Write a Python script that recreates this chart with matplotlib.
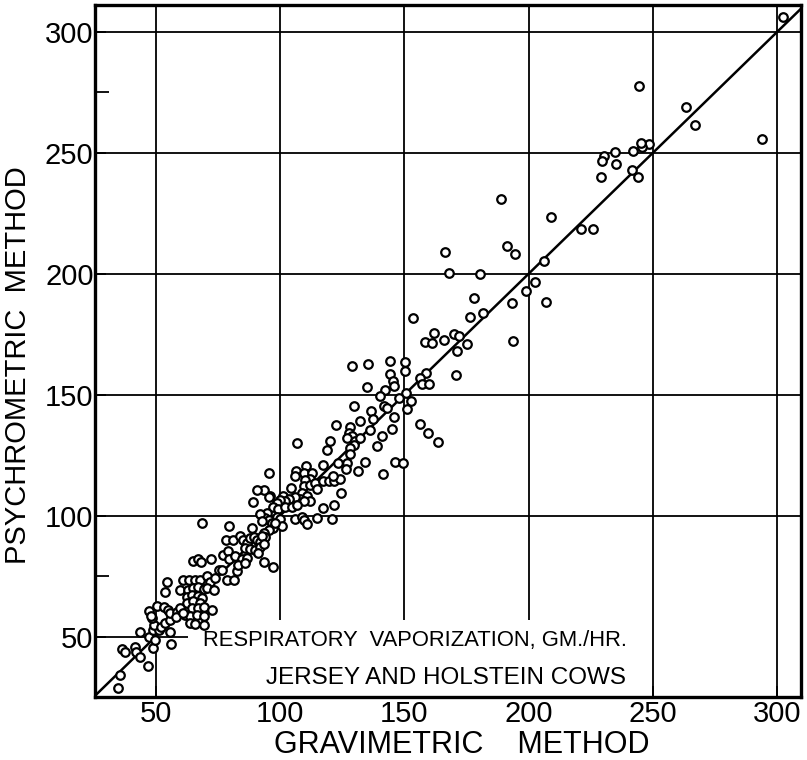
import matplotlib
matplotlib.use("Agg")
import matplotlib.pyplot as plt
from matplotlib.patches import Rectangle
from matplotlib.ticker import FixedLocator

FONT = ["Liberation Sans", "DejaVu Sans"]

# gravimetric (x) and psychrometric (y) readings, gm/hr
grav = [
    302.2, 244.3, 263.3, 266.9, 293.8, 248.2, 245.5, 245.2, 241.9, 234.8,
    230.1, 229.4, 235.2, 241.7, 244.1, 229.0, 226.0, 221.1, 188.9, 209.1,
    166.1, 191.2, 194.5, 206.3, 168.0, 180.5, 202.6, 199.0, 206.9, 193.2,
    178.0, 181.5, 176.3, 153.6, 161.7, 158.3, 161.0, 165.7, 170.0, 172.1,
    175.0, 171.3, 193.6, 170.7, 150.3, 150.3, 158.7, 156.3, 157.0, 159.7,
    150.7, 152.6, 151.2, 147.6, 144.0, 144.3, 145.3, 145.6, 142.2, 140.2,
    135.5, 129.0, 134.9, 129.5, 136.5, 137.5, 141.6, 142.9, 145.6, 131.9,
    144.9, 136.2, 140.9, 156.3, 159.3, 163.4, 127.9, 127.5, 128.8, 126.8,
    130.2, 132.2, 129.5, 128.2, 138.9, 122.5, 120.1, 118.8, 127.9, 106.7,
    95.3, 110.5, 117.2, 123.1, 126.8, 126.6, 134.2, 131.1, 141.2, 146.3,
    149.3, 124.4, 106.4, 106.0, 109.4, 112.7, 112.1, 110.1, 109.4, 112.1,
    114.1, 117.2, 119.5, 121.7, 124.1, 121.2, 104.3, 114.7, 96.0, 101.3,
    108.7, 110.7, 112.1, 108.1, 109.4, 106.0, 103.4, 102.0, 100.0, 98.7,
    97.3, 99.3, 102.0, 104.7, 106.7, 93.6, 90.6, 95.3, 117.4, 121.5,
    106.0, 108.7, 109.4, 110.7, 114.8, 120.8, 94.6, 94.0, 95.3, 96.7,
    98.7, 100.0, 97.3, 95.3, 93.3, 94.0, 100.7, 98.0, 89.0, 91.9,
    92.6, 68.5, 79.6, 88.6, 78.3, 81.2, 83.9, 85.2, 86.6, 87.9,
    89.5, 90.6, 91.9, 92.6, 85.9, 87.9, 89.9, 91.7, 93.3, 76.9,
    79.2, 79.6, 81.9, 84.6, 86.6, 90.9, 93.6, 97.0, 64.9, 67.1,
    68.1, 72.1, 61.1, 63.5, 65.8, 67.8, 70.5, 71.8, 73.9, 75.2,
    76.5, 78.5, 81.5, 82.6, 83.2, 85.9, 59.8, 63.1, 65.1, 67.1,
    69.2, 70.5, 73.2, 62.5, 64.5, 67.1, 68.5, 62.5, 65.1, 67.8,
    64.5, 67.1, 69.2, 72.5, 61.8, 63.8, 66.5, 69.2, 63.8, 65.8,
    69.2, 34.7, 35.6, 46.8, 36.3, 37.6, 41.4, 42.0, 43.7, 43.7,
    49.0, 56.2, 55.8, 47.3, 49.7, 49.0, 51.3, 49.4, 52.1, 53.7,
    55.8, 48.6, 47.4, 50.4, 48.1, 53.1, 54.8, 55.8, 58.4, 53.5,
    54.4, 59.8, 58.0, 61.1,
]
psych = [
    305.9, 277.7, 268.7, 261.6, 255.5, 253.6, 252.2, 253.9, 250.8, 250.4,
    248.4, 246.7, 245.3, 242.9, 240.1, 239.8, 218.3, 218.5, 230.7, 223.2,
    209.1, 211.4, 208.1, 205.2, 200.1, 199.7, 196.4, 193.0, 188.2, 188.0,
    190.1, 183.6, 182.0, 181.5, 175.4, 171.6, 171.2, 172.6, 175.1, 174.0,
    171.0, 167.9, 172.3, 158.1, 163.6, 159.9, 159.1, 157.0, 154.3, 154.3,
    150.6, 147.5, 144.1, 148.5, 163.7, 158.4, 155.7, 153.7, 151.7, 149.5,
    162.7, 161.9, 153.3, 145.1, 143.0, 140.0, 145.3, 144.4, 140.9, 138.9,
    135.7, 135.4, 132.9, 137.8, 134.0, 130.5, 136.5, 134.3, 132.7, 132.0,
    131.0, 132.0, 129.2, 127.8, 128.8, 137.3, 131.0, 127.1, 125.5, 129.9,
    117.5, 120.5, 120.9, 121.6, 121.6, 119.2, 122.1, 118.5, 117.1, 122.3,
    121.6, 109.2, 118.6, 116.4, 117.5, 117.5, 115.0, 114.8, 112.3, 112.7,
    113.4, 114.1, 114.1, 114.1, 115.0, 116.5, 111.3, 111.0, 108.1, 107.9,
    109.5, 107.9, 106.2, 106.8, 105.8, 107.6, 106.8, 105.8, 106.5, 105.1,
    103.5, 102.6, 103.7, 103.5, 104.4, 110.6, 110.4, 107.6, 103.0, 104.4,
    98.6, 99.6, 98.2, 96.6, 98.9, 98.6, 101.0, 98.9, 98.2, 97.1,
    99.6, 98.5, 94.8, 94.1, 92.7, 91.3, 95.5, 96.9, 105.4, 100.7,
    97.9, 96.9, 95.5, 94.8, 90.0, 90.0, 91.6, 90.0, 88.6, 90.7,
    91.3, 90.0, 88.9, 91.6, 86.5, 86.1, 85.8, 87.2, 88.3, 83.8,
    85.2, 82.0, 83.1, 82.0, 82.4, 84.5, 81.0, 78.7, 81.3, 82.0,
    80.6, 82.0, 73.2, 73.2, 73.2, 73.4, 75.1, 72.7, 74.1, 77.6,
    77.6, 73.4, 73.4, 76.9, 79.6, 80.3, 69.3, 69.3, 70.0, 70.4,
    69.6, 70.0, 69.3, 66.5, 67.2, 66.8, 65.9, 63.8, 64.5, 63.8,
    61.7, 61.7, 62.4, 61.0, 59.0, 58.3, 59.0, 58.3, 55.5, 55.3,
    54.8, 28.9, 34.2, 37.9, 44.8, 43.4, 45.5, 43.8, 41.5, 52.0,
    45.2, 47.0, 51.7, 49.7, 48.6, 52.8, 52.5, 54.8, 54.1, 55.5,
    56.9, 57.6, 60.7, 62.7, 58.6, 62.1, 61.0, 59.7, 60.3, 68.2,
    72.7, 61.7, 58.0, 59.7,
]

ticks = [50, 100, 150, 200, 250, 300]
xlim = (25.5, 309.5)
ylim = (25, 311)

fig = plt.figure(figsize=(8.07, 7.6), dpi=100)
ax = fig.add_axes([0.1177, 0.0829, 0.8749, 0.9105])
ax.set_xlim(*xlim)
ax.set_ylim(*ylim)

# grid; the 50 line only runs up to the caption
for t in ticks:
    ax.axvline(t, color="black", lw=1.3, zorder=1)
    if t == 50:
        ax.hlines(t, xlim[0], 63, color="black", lw=1.3, zorder=1)
    else:
        ax.axhline(t, color="black", lw=1.3, zorder=1)

# blank panel behind the caption (cuts the grid lines)
ax.add_patch(Rectangle((63, 25), 182, 32, facecolor="white",
                       edgecolor="none", zorder=2))

ax.plot(xlim, xlim, color="black", lw=1.8, zorder=3)
ax.scatter(grav, psych, s=38, facecolors="white", edgecolors="black",
           linewidths=1.6, zorder=4)

ax.text(154, 48.3, "RESPIRATORY  VAPORIZATION, GM./HR.", ha="center",
        va="center", fontsize=15.8, family=FONT, zorder=5)
ax.text(166.5, 33, "JERSEY AND HOLSTEIN COWS", ha="center", va="center",
        fontsize=17.5, family=FONT, zorder=5)

ax.set_xticks(ticks)
ax.set_yticks(ticks)
ax.set_xticklabels([str(t) for t in ticks], family=FONT, fontsize=21)
ax.set_yticklabels([str(t) for t in ticks], family=FONT, fontsize=21)
ax.yaxis.set_minor_locator(FixedLocator([75, 275]))
ax.tick_params(axis="both", which="major", direction="in", length=8,
               width=1.3, pad=2)
ax.tick_params(axis="y", which="minor", direction="in", length=10, width=1.3)
ax.tick_params(axis="y", which="major", pad=1)

for side in ax.spines.values():
    side.set_linewidth(2.4)

fig.text(18 / 807, 1 - 365 / 760, "PSYCHROMETRIC  METHOD", rotation=90,
         ha="center", va="center", fontsize=21, family=FONT)
fig.text(462 / 807, 1 - 745 / 760, "GRAVIMETRIC    METHOD", ha="center",
         va="center", fontsize=22, family=FONT)

fig.savefig("out.png", dpi=100)
